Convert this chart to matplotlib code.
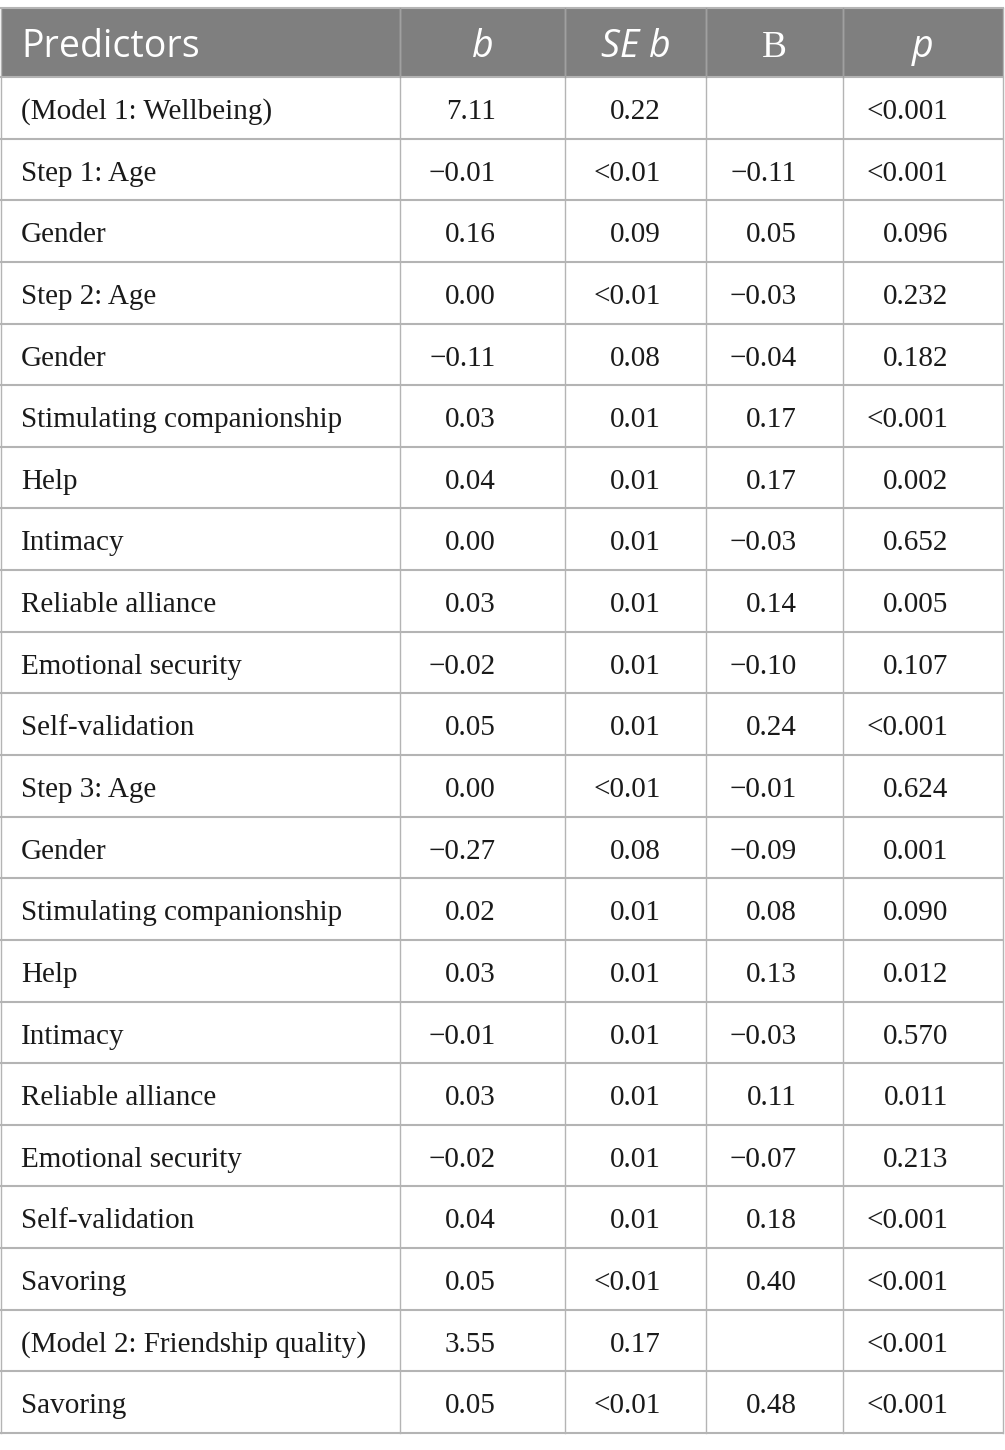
import matplotlib.pyplot as plt
from matplotlib.patches import Rectangle

# table contents
headers = ['Predictors', 'b', 'SE b', 'B', 'p']
predictors = ['(Model 1: Wellbeing)', 'Step 1: Age', 'Gender', 'Step 2: Age', 'Gender',
              'Stimulating companionship', 'Help', 'Intimacy', 'Reliable alliance',
              'Emotional security', 'Self-validation', 'Step 3: Age', 'Gender',
              'Stimulating companionship', 'Help', 'Intimacy', 'Reliable alliance',
              'Emotional security', 'Self-validation', 'Savoring',
              '(Model 2: Friendship quality)', 'Savoring']
b_vals = ['7.11', '\u22120.01', '0.16', '0.00', '\u22120.11', '0.03', '0.04', '0.00', '0.03',
          '\u22120.02', '0.05', '0.00', '\u22120.27', '0.02', '0.03', '\u22120.01', '0.03',
          '\u22120.02', '0.04', '0.05', '3.55', '0.05']
se_vals = ['0.22', '<0.01', '0.09', '<0.01', '0.08', '0.01', '0.01', '0.01', '0.01', '0.01',
           '0.01', '<0.01', '0.08', '0.01', '0.01', '0.01', '0.01', '0.01', '0.01', '<0.01',
           '0.17', '<0.01']
beta_vals = ['', '\u22120.11', '0.05', '\u22120.03', '\u22120.04', '0.17', '0.17', '\u22120.03',
             '0.14', '\u22120.10', '0.24', '\u22120.01', '\u22120.09', '0.08', '0.13', '\u22120.03',
             '0.11', '\u22120.07', '0.18', '0.40', '', '0.48']
p_vals = ['<0.001', '<0.001', '0.096', '0.232', '0.182', '<0.001', '0.002', '0.652', '0.005',
          '0.107', '<0.001', '0.624', '0.001', '0.090', '0.012', '0.570', '0.011', '0.213',
          '<0.001', '<0.001', '<0.001', '<0.001']

W, H = 1005, 1450
col_x = [1, 400, 565, 706, 843, 1003]
top, head_bot, bottom = 8, 77, 1433
n = len(predictors)
row_h = (bottom - head_bot) / n
num_right = [496, 661, 797, 948]

fig = plt.figure(figsize=(W / 100, H / 100), dpi=100)
ax = fig.add_axes([0, 0, 1, 1])
ax.set_xlim(0, W)
ax.set_ylim(H, 0)
ax.axis('off')

line_c = '#b4b4b4'
ax.add_patch(Rectangle((col_x[0], top), col_x[-1] - col_x[0], head_bot - top,
                       facecolor='#7f7f7f', edgecolor='none'))

# horizontal rules
ax.plot([col_x[0], col_x[-1]], [top, top], color=line_c, lw=1.5)
for i in range(n + 1):
    y = head_bot + i * row_h
    ax.plot([col_x[0], col_x[-1]], [y, y], color=line_c, lw=1.5)
# vertical rules
for x in col_x:
    ax.plot([x, x], [top, bottom], color=line_c, lw=1.0)
for x in col_x[1:-1]:
    ax.plot([x, x], [top, head_bot], color='#a0a0a0', lw=1.0)

# header
hy = 57
sans = 'Open Sans'
hs = 27
ax.text(21, hy, headers[0], color='white', fontsize=hs, family=sans, va='baseline', ha='left')
ax.text((col_x[1] + col_x[2]) / 2, hy, headers[1], color='white', fontsize=hs, family=sans,
        style='italic', va='baseline', ha='center')
ax.text((col_x[2] + col_x[3]) / 2, hy, headers[2], color='white', fontsize=hs, family=sans,
        style='italic', va='baseline', ha='center')
ax.text((col_x[3] + col_x[4]) / 2, hy, headers[3], color='white', fontsize=hs,
        family='Liberation Serif', va='baseline', ha='center')
ax.text((col_x[4] + col_x[5]) / 2, hy, headers[4], color='white', fontsize=hs, family=sans,
        style='italic', va='baseline', ha='center')

# body
serif = 'Liberation Serif'
fs = 21
for i in range(n):
    y = head_bot + i * row_h + 42
    ax.text(21, y, predictors[i], fontsize=fs, family=serif, va='baseline', ha='left',
            color='#1a1a1a')
    for j, col in enumerate([b_vals, se_vals, beta_vals, p_vals]):
        ax.text(num_right[j], y, col[i], fontsize=fs, family=serif, va='baseline',
                ha='right', color='#1a1a1a')

fig.savefig('out.png', dpi=100)
